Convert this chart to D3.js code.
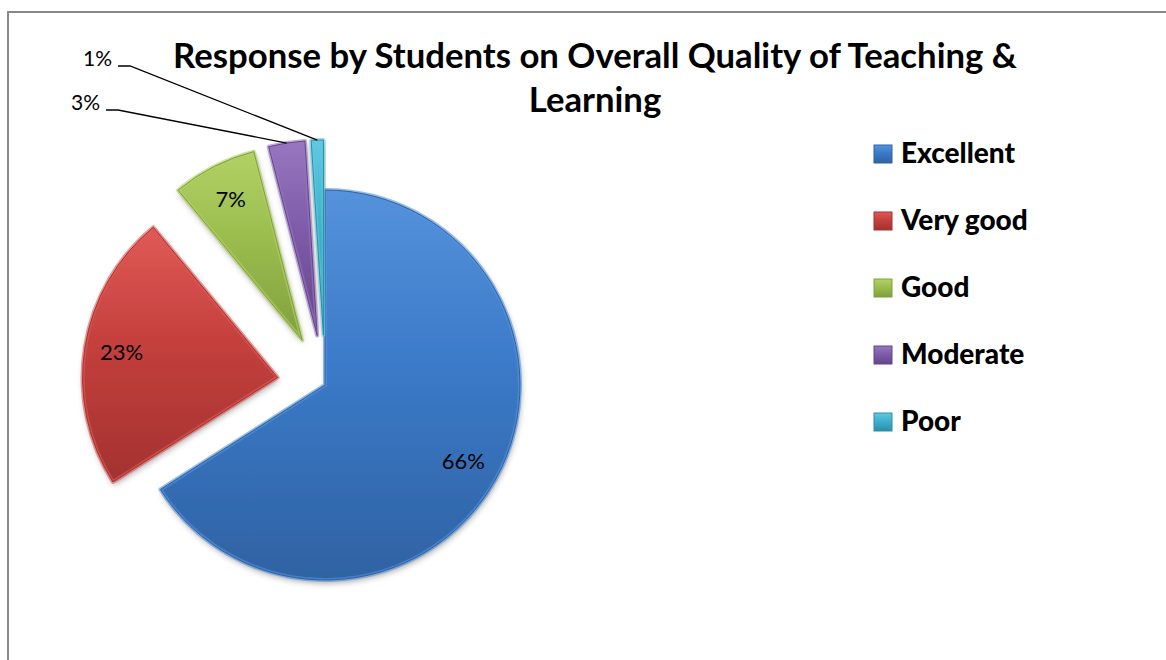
<!DOCTYPE html>
<meta charset="utf-8">
<style>
body { margin: 0; background: #fff; }
text { font-family: Lato, "Open Sans", sans-serif; }
</style>
<svg width="1166" height="660"></svg>
<script src="https://d3js.org/d3.v7.min.js"></script>
<script>

var categories = ["Excellent", "Very good", "Good", "Moderate", "Poor"];
var values = [66, 23, 7, 3, 1];
var labels = ["66%", "23%", "7%", "3%", "1%"];
var titleLines = ["Response by Students on Overall Quality of Teaching &", "Learning"];

var svg = d3.select("svg"),
    width = +svg.attr("width"),
    height = +svg.attr("height");

var colors = ["#3b7ac8", "#c4403d", "#9bbd4e", "#7f5ba9", "#3fb0cc"];
var light  = ["#5592dc", "#e05a56", "#b2d166", "#9777bf", "#62c8e0"];
var dark   = ["#2f62a3", "#a33230", "#809f3d", "#64468a", "#2c8ea8"];

var cx = 325, cy = 385, R = 195;
var explode = [0, 48, 50, 50, 50];

// page border
svg.append("line").attr("x1", 8).attr("x2", width).attr("y1", 12).attr("y2", 12)
    .style("stroke", "#888").style("stroke-width", 2);
svg.append("line").attr("x1", 8).attr("x2", 8).attr("y1", 11).attr("y2", height)
    .style("stroke", "#888").style("stroke-width", 2);

var defs = svg.append("defs");
colors.forEach(function(c, i) {
  var g = defs.append("linearGradient").attr("id", "grad" + i)
      .attr("x1", 0).attr("y1", 0).attr("x2", 0).attr("y2", 1);
  g.append("stop").attr("offset", "0%").attr("stop-color", light[i]);
  g.append("stop").attr("offset", "45%").attr("stop-color", c);
  g.append("stop").attr("offset", "100%").attr("stop-color", dark[i]);
});
var shadow = defs.append("filter").attr("id", "shadow")
    .attr("x", "-20%").attr("y", "-20%").attr("width", "140%").attr("height", "140%");
shadow.append("feDropShadow").attr("dx", 1).attr("dy", 3)
    .attr("stdDeviation", 3).attr("flood-color", "#000").attr("flood-opacity", 0.35);

var pie = d3.pie().sort(null).value(function(d) { return d; });
var arcs = pie(values);
var arc = d3.arc().innerRadius(0).outerRadius(R);

function offset(d, i) {
  var a = (d.startAngle + d.endAngle) / 2;
  return [cx + explode[i] * Math.sin(a), cy - explode[i] * Math.cos(a)];
}

var slices = svg.append("g").selectAll("g")
  .data(arcs)
  .enter().append("g")
    .attr("transform", function(d, i) { var o = offset(d, i); return "translate(" + o[0] + "," + o[1] + ")"; });

slices.append("path")
    .attr("d", arc)
    .attr("fill", function(d, i) { return "url(#grad" + i + ")"; })
    .attr("filter", "url(#shadow)");

// bevel highlight
slices.append("path")
    .attr("d", arc)
    .attr("fill", "none")
    .style("stroke", function(d, i) { return light[i]; })
    .style("stroke-width", 4)
    .style("stroke-opacity", 0.6)
    .style("stroke-linejoin", "round");
slices.append("path")
    .attr("d", arc)
    .attr("fill", "none")
    .style("stroke", function(d, i) { return dark[i]; })
    .style("stroke-width", 1);

// inside labels
var labelArc = d3.arc().innerRadius(R * 0.81).outerRadius(R * 0.81);
slices.filter(function(d, i) { return i < 3; })
  .append("text")
    .attr("transform", function(d) { var c = labelArc.centroid(d); return "translate(" + c[0] + "," + c[1] + ")"; })
    .attr("text-anchor", "middle")
    .attr("dy", "0.35em")
    .style("font-size", "22px")
    .text(function(d, i) { return labels[i]; });

// outside labels with leader lines
var outside = [{i: 4, x: 112, y: 66}, {i: 3, x: 100, y: 110}];
outside.forEach(function(o) {
  var d = arcs[o.i], off = offset(d, o.i);
  var a = (d.startAngle + d.endAngle) / 2;
  var ex = off[0] + R * Math.sin(a), ey = off[1] - R * Math.cos(a);
  svg.append("path")
      .attr("d", "M" + (o.x + 6) + "," + o.y + "H" + (o.x + 18) + "L" + ex + "," + ey)
      .style("fill", "none").style("stroke", "#000").style("stroke-width", 1.3);
  svg.append("text")
      .attr("x", o.x).attr("y", o.y)
      .attr("text-anchor", "end")
      .style("font-size", "21px")
      .text(labels[o.i]);
});

// title
var title = svg.append("g").style("font-weight", "bold");
var t1 = title.append("text").attr("x", 595).attr("y", 68).attr("text-anchor", "middle")
    .style("font-size", "30px").text(titleLines[0]);
var fs = 30 * 844 / t1.node().getComputedTextLength();
t1.style("font-size", fs + "px");
title.append("text").attr("x", 595).attr("y", 112).attr("text-anchor", "middle")
    .style("font-size", fs + "px").text(titleLines[1]);

// legend
var legend = svg.append("g").attr("transform", "translate(874,145)");
var item = legend.selectAll("g")
  .data(categories)
  .enter().append("g")
    .attr("transform", function(d, i) { return "translate(0," + (i * 67) + ")"; });
item.append("rect")
    .attr("width", 18).attr("height", 18)
    .attr("fill", function(d, i) { return "url(#grad" + i + ")"; })
    .style("stroke", function(d, i) { return dark[i]; });
item.append("text")
    .attr("x", 27).attr("y", 18)
    .style("font-size", "28px").style("font-weight", "900")
    .text(function(d) { return d; });

</script>
